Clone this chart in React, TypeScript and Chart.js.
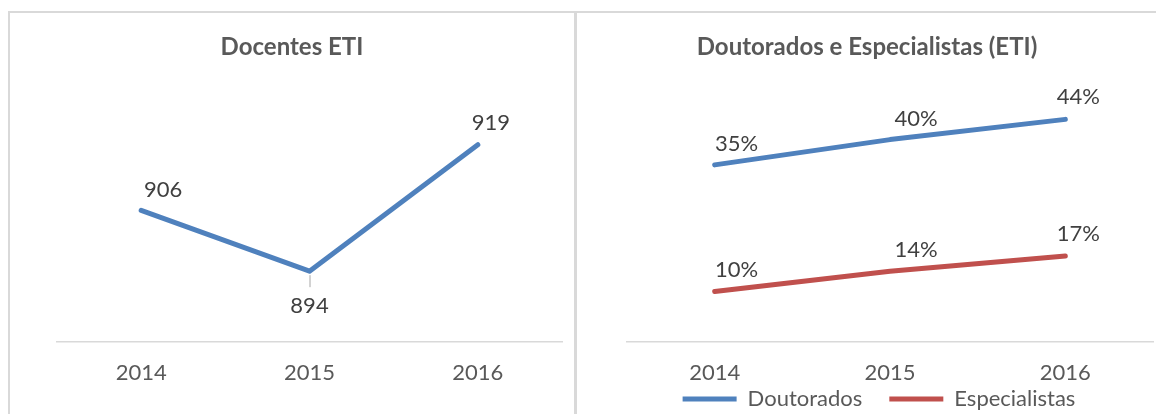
import React, { useEffect, useRef } from "react";
import { Chart, registerables } from "chart.js";

Chart.register(...registerables);

const years = ["2014", "2015", "2016"];
const docentesETI = [906, 894, 919];
const doutorados = [35, 40, 44];
const especialistas = [10, 14, 17];

const leftTitle = "Docentes ETI";
const rightTitle = "Doutorados e Especialistas (ETI)";
const seriesNames = ["Doutorados", "Especialistas"];

const FONT = 'Lato, "Open Sans", sans-serif';
const BLUE = "#4F81BD";
const RED = "#C0504D";
const GRID = "#d9d9d9";
const TEXT = "#595959";
const LABEL = "#404040";

type LabelCfg = {
  offsets: number[][];
  suffix: string;
  leaders?: boolean[];
};

function makeLabelPlugin(cfg: LabelCfg) {
  return {
    id: "valueLabels",
    afterDatasetsDraw(chart: any) {
      const ctx = chart.ctx;
      ctx.save();
      ctx.font = `22px ${FONT}`;
      ctx.fillStyle = LABEL;
      ctx.textAlign = "center";
      ctx.textBaseline = "middle";
      chart.data.datasets.forEach((ds: any, di: number) => {
        const meta = chart.getDatasetMeta(di);
        meta.data.forEach((pt: any, i: number) => {
          const [dx, dy] = cfg.offsets[i];
          if (cfg.leaders && cfg.leaders[i]) {
            ctx.save();
            ctx.strokeStyle = "#a6a6a6";
            ctx.lineWidth = 1;
            ctx.beginPath();
            ctx.moveTo(pt.x + 0.5, pt.y + 4);
            ctx.lineTo(pt.x + 0.5, pt.y + 16);
            ctx.stroke();
            ctx.restore();
          }
          ctx.fillText(`${ds.data[i]}${cfg.suffix}`, pt.x + dx, pt.y + dy);
        });
      });
      ctx.restore();
    },
  };
}

// places the legend row just under the category labels (Excel style)
function makeLegendPlacement(top: number, dx: number) {
  return {
    id: "legendPlacement",
    afterLayout(chart: any) {
      const lg = chart.legend;
      if (!lg) return;
      const h = lg.height;
      lg.top = top;
      lg.bottom = top + h;
      lg.left += dx;
      lg.right += dx;
    },
  };
}

function baseScales(min: number, max: number, leftW: number, rightW: number, xH: number) {
  return {
    x: {
      offset: true,
      grid: { display: false, drawTicks: false },
      border: { display: true, color: GRID, width: 1.5 },
      ticks: { color: TEXT, font: { family: FONT, size: 22 }, padding: 18, maxRotation: 0 },
      afterFit: (s: any) => {
        s.height = xH;
      },
    },
    y: {
      min,
      max,
      position: "left" as const,
      grid: { display: false, drawTicks: false },
      border: { display: false },
      ticks: { display: false },
      afterFit: (s: any) => {
        s.width = leftW;
      },
    },
    yR: {
      position: "right" as const,
      grid: { display: false, drawTicks: false },
      border: { display: false },
      ticks: { display: false },
      afterFit: (s: any) => {
        s.width = rightW;
      },
    },
  };
}

function titleOpts(text: string) {
  return {
    display: true,
    text,
    color: TEXT,
    font: { family: FONT, size: 24, weight: "bold" as const },
    padding: { top: 19.6, bottom: 27.6 },
  };
}

export default function App() {
  const leftRef = useRef<HTMLCanvasElement>(null);
  const rightRef = useRef<HTMLCanvasElement>(null);

  useEffect(() => {
    const lineDs = (label: string, data: number[], color: string) => ({
      label,
      data,
      borderColor: color,
      backgroundColor: color,
      borderWidth: 5,
      borderCapStyle: "round" as const,
      borderJoinStyle: "round" as const,
      pointRadius: 0,
      pointHoverRadius: 0,
      tension: 0,
      yAxisID: "y",
    });

    const left = new Chart(leftRef.current!, {
      type: "line",
      data: { labels: years, datasets: [lineDs("Docentes ETI", docentesETI, BLUE)] },
      options: {
        responsive: false,
        animation: false,
        layout: { padding: 0 },
        scales: baseScales(880, 930, 47, 12, 72) as any,
        plugins: {
          legend: { display: false },
          tooltip: { enabled: false },
          title: titleOpts(leftTitle),
        },
      },
      plugins: [makeLabelPlugin({ offsets: [[22, -21], [0, 35], [13, -22]], suffix: "", leaders: [false, true, false] })],
    });

    const right = new Chart(rightRef.current!, {
      type: "line",
      data: {
        labels: years,
        datasets: [
          lineDs(seriesNames[0], doutorados, BLUE),
          lineDs(seriesNames[1], especialistas, RED),
        ],
      },
      options: {
        responsive: false,
        animation: false,
        layout: { padding: 0 },
        scales: baseScales(0, 50, 49, 3, 72) as any,
        plugins: {
          legend: {
            display: true,
            position: "bottom",
            labels: {
              usePointStyle: true,
              pointStyle: "line",
              pointStyleWidth: 54,
              boxHeight: 5,
              padding: 27,
              color: TEXT,
              font: { family: FONT, size: 22 },
            },
          },
          tooltip: { enabled: false },
          title: titleOpts(rightTitle),
        },
      },
      plugins: [
        makeLabelPlugin({ offsets: [[22, -21], [26, -21], [13, -22]], suffix: "%" }),
        makeLegendPlacement(348, 12),
      ],
    });

    return () => {
      left.destroy();
      right.destroy();
    };
  }, []);

  return (
    <div
      style={{
        position: "fixed",
        left: 0,
        top: 0,
        width: 1156,
        height: 414,
        overflow: "hidden",
        background: "#ffffff",
      }}
    >
      <div style={{ position: "absolute", left: 8, top: 11, width: 1148, height: 2, background: GRID }} />
      <div style={{ position: "absolute", left: 8, top: 11, width: 2, height: 403, background: GRID }} />
      <div style={{ position: "absolute", left: 574, top: 11, width: 3, height: 403, background: GRID }} />
      <canvas
        ref={leftRef}
        width={564}
        height={401}
        style={{ position: "absolute", left: 10, top: 13, display: "block" }}
      />
      <canvas
        ref={rightRef}
        width={578}
        height={460}
        style={{ position: "absolute", left: 578, top: 13, display: "block" }}
      />
    </div>
  );
}
